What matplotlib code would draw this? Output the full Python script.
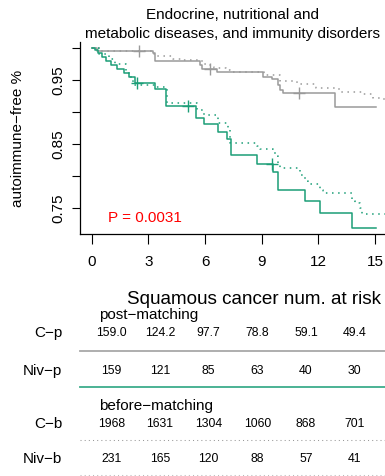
import matplotlib
matplotlib.use("Agg")
import matplotlib.pyplot as plt

plt.rcParams['font.family'] = ['Liberation Sans', 'DejaVu Sans']

# ---------------- data ----------------
# C-p (control, post-matching) solid gray
cp_x = [0, 0.27, 3.26, 3.35, 5.73, 5.85, 6.62, 9.08, 9.53, 9.88, 9.97, 10.14, 12.88, 15.03]
cp_y = [1.0, 0.9963, 0.992, 0.9807, 0.974, 0.967, 0.9625, 0.9547, 0.9516, 0.9427, 0.935, 0.9297, 0.9088, 0.9088]
cp_cens_x = [2.52, 6.26, 11.0]
cp_cens_y = [0.9963, 0.967, 0.9297]

# C-b (control, before matching) dotted gray
cb_x = [0, 0.5, 3.3, 3.45, 4.3, 4.8, 5.1, 5.85, 6.1, 6.5, 7.1, 7.3, 9.1, 9.95, 10.85, 11.9, 13.1, 14.3, 14.9, 15.5, 15.6]
cb_y = [1.0, 0.996, 0.991, 0.988, 0.984, 0.982, 0.981, 0.976, 0.9745, 0.970, 0.966, 0.9625, 0.958, 0.949, 0.944, 0.9385, 0.932, 0.928, 0.922, 0.914, 0.914]

# Niv-p (nivolumab, post-matching) solid green
np_x = [0, 0.175, 0.35, 0.53, 0.74, 1.02, 1.36, 1.73, 1.99, 2.29, 3.35, 3.93, 5.52, 5.96, 6.70, 7.15, 7.36, 8.73, 9.61, 9.88, 11.31, 12.09, 13.76, 15.03]
np_y = [1.0, 0.9974, 0.9922, 0.9869, 0.9807, 0.974, 0.9672, 0.961, 0.9547, 0.9463, 0.9357, 0.9104, 0.891, 0.881, 0.869, 0.858, 0.833, 0.820, 0.807, 0.779, 0.761, 0.742, 0.720, 0.720]
np_cens_x = [2.38, 5.12, 9.53]
np_cens_y = [0.9463, 0.9104, 0.820]

# Niv-b (nivolumab, before matching) dotted green
nb_x = [0, 0.4, 0.9, 1.25, 1.8, 2.0, 2.2, 3.4, 3.97, 5.56, 5.95, 6.69, 7.23, 7.32, 8.73, 8.91, 9.61, 9.79, 9.85, 9.88, 9.97, 11.03, 11.29, 11.47, 12.09, 12.26, 13.76, 13.94, 14.2, 14.29, 15.6]
nb_y = [1.0, 0.991, 0.983, 0.975, 0.963, 0.955, 0.942, 0.939, 0.915, 0.904, 0.896, 0.883, 0.872, 0.852, 0.847, 0.842, 0.836, 0.832, 0.824, 0.817, 0.8125, 0.802, 0.793, 0.788, 0.779, 0.774, 0.762, 0.759, 0.750, 0.741, 0.741]

x_ticks = [0, 3, 6, 9, 12, 15]
y_ticks = [0.75, 0.80, 0.85, 0.90, 0.95, 1.00]
y_tick_labels = ["0.75", "", "0.85", "", "0.95", ""]

title_lines = ["Endocrine, nutritional and", "metabolic diseases, and immunity disorders"]
ylabel = "autoimmune\u2212free %"
p_text = "P = 0.0031"

risk_title = "Squamous cancer num. at risk"
row_labels = ["C\u2212p", "Niv\u2212p", "C\u2212b", "Niv\u2212b"]
cp_risk = ["159.0", "124.2", "97.7", "78.8", "59.1", "49.4"]
np_risk = ["159", "121", "85", "63", "40", "30"]
cb_risk = ["1968", "1631", "1304", "1060", "868", "701"]
nb_risk = ["231", "165", "120", "88", "57", "41"]

GRAY = "#9a9a9a"
GREEN = "#1b9e77"

# ---------------- figure ----------------
W, H = 385, 476
fig = plt.figure(figsize=(W / 100, H / 100), dpi=100)

def fx(px):
    return px / W

def fy(py):
    return 1 - py / H

ax = fig.add_axes([fx(80), fy(234), fx(385) - fx(80), fy(42) - fy(234)])
ax.set_xlim(-0.619, 15.527)
ax.set_ylim(0.7099, 1.0099)

dot = (0, (1, 3))
ax.step(cb_x, cb_y, where='post', color=GRAY, lw=1.1, linestyle=dot)
ax.step(nb_x, nb_y, where='post', color=GREEN, lw=1.1, linestyle=dot)
ax.step(cp_x, cp_y, where='post', color=GRAY, lw=1.1)
ax.step(np_x, np_y, where='post', color=GREEN, lw=1.1)
ax.plot(cp_cens_x, cp_cens_y, ls='none', marker='+', color=GRAY, ms=9, mew=1.0)
ax.plot(np_cens_x, np_cens_y, ls='none', marker='+', color=GREEN, ms=9, mew=1.0)

ax.spines['top'].set_visible(False)
ax.spines['right'].set_visible(False)
ax.spines['left'].set_linewidth(0.9)
ax.spines['bottom'].set_linewidth(0.9)
ax.set_xticks(x_ticks)
ax.set_xticklabels([str(t) for t in x_ticks], fontsize=11)
ax.set_yticks(y_ticks)
ax.set_yticklabels(y_tick_labels, fontsize=11, rotation=90, va='center')
ax.tick_params(axis='x', length=7.2, width=0.8, pad=8)
ax.tick_params(axis='y', length=5.8, width=0.8, pad=5)

# canvas for free text, pixel coordinates
cax = fig.add_axes([0, 0, 1, 1])
cax.set_xlim(0, W)
cax.set_ylim(H, 0)
cax.axis('off')
cax.patch.set_visible(False)

cax.text(232.5, 19.3, title_lines[0], ha='center', va='baseline', fontsize=11)
cax.text(232.5, 38.0, title_lines[1], ha='center', va='baseline', fontsize=11)
cax.text(18, 138, ylabel, ha='center', va='center', rotation=90, fontsize=11)
cax.text(108, 221.5, p_text, ha='left', va='baseline', fontsize=11, color='red')

cax.text(126.7, 304.5, risk_title, ha='left', va='baseline', fontsize=13.6)
cax.text(99.5, 319.5, "post\u2212matching", ha='left', va='baseline', fontsize=11)
cax.text(99.5, 410.0, "before\u2212matching", ha='left', va='baseline', fontsize=11)

col_x = [111.5 + 48.6 * i for i in range(6)]
rows = [(row_labels[0], cp_risk, 337.5, 336.5),
        (row_labels[1], np_risk, 375.0, 374.0),
        (row_labels[2], cb_risk, 427.7, 427.3),
        (row_labels[3], nb_risk, 462.7, 462.3)]
for lab, vals, lab_y, num_y in rows:
    cax.text(62.5, lab_y, lab, ha='right', va='baseline', fontsize=11)
    for cx, v in zip(col_x, vals):
        cax.text(cx, num_y, v, ha='center', va='baseline', fontsize=8.8)

cax.plot([80, 385], [350.7, 350.7], color="#a8a8a8", lw=1.3)
cax.plot([80, 385], [386.7, 386.7], color=GREEN, lw=1.3, alpha=0.85)
cax.plot([80, 385], [440.0, 440.0], color="#999999", lw=0.75, linestyle=dot)
cax.plot([80, 385], [475.3, 475.3], color="#bbbbbb", lw=0.75, linestyle=dot)

fig.savefig("out.png", dpi=100)
